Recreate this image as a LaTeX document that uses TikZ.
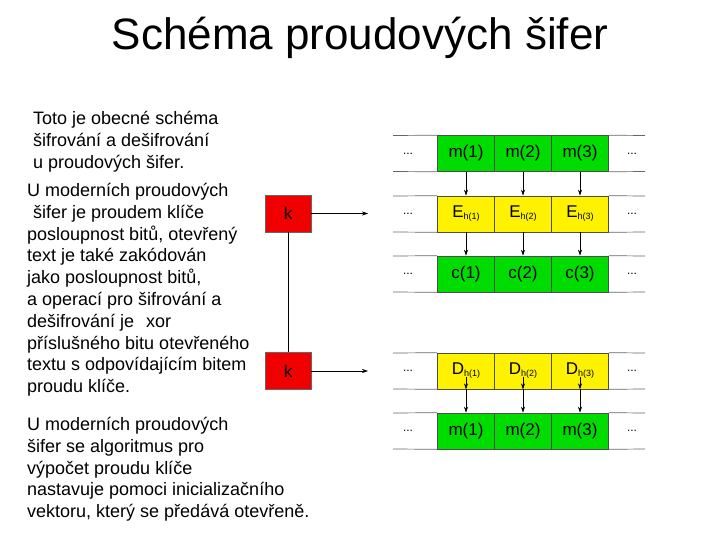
\documentclass[tikz,border=0pt]{standalone}
\usepackage{fontspec}
\setmainfont{Liberation Sans}
\usetikzlibrary{arrows.meta}
\definecolor{gr}{RGB}{0,220,0}
\definecolor{rd}{RGB}{240,0,0}
\begin{document}
\begin{tikzpicture}[x=1pt,y=-1pt,
  cell/.style={draw=black!70,line width=0.6pt,minimum width=57pt,minimum height=36pt,inner sep=0pt,font=\fontsize{17}{20}\selectfont},
  gcell/.style={cell,fill=gr},
  ycell/.style={cell,fill=yellow},
  key/.style={draw=black!60,fill=rd,minimum width=46pt,minimum height=37pt,inner sep=0pt,font=\fontsize{17}{20}\selectfont},
  dots/.style={font=\fontsize{12}{12}\selectfont},
  arr/.style={-{Stealth[length=6pt,width=4pt]},line width=0.6pt},
  rl/.style={draw=black!60,line width=0.7pt},
  txt/.style={anchor=north west,align=left,inner sep=0pt,font=\fontsize{18}{21.8}\selectfont}]
\useasboundingbox (0,0) rectangle (720,540);
\node (title) at (360,38) {\fontsize{44}{48}\selectfont Schéma proudových šifer};
\node[txt] (t1) at (33,111) {Toto je obecné schéma\\šifrování a dešifrování\\u proudových šifer.};
\node[txt] (t2) at (27,183) {U moderních proudových\\\hspace{6pt}šifer je proudem klíče\\posloupnost bitů, otevřený\\text je také zakódován\\jako posloupnost bitů,\\a operací pro šifrování a\\dešifrování je\hspace{12pt}xor\\příslušného bitu otevřeného\\textu s odpovídajícím bitem\\proudu klíče.};
\node[txt] (t3) at (27,417) {U moderních proudových\\šifer se algoritmus pro\\výpočet proudu klíče\\nastavuje pomoci inicializačního\\vektoru, který se předává otevřeně.};
\newcommand{\sbx}[1]{\raisebox{-2pt}{\fontsize{9}{9}\selectfont #1}}
\foreach \r/\y/\s/\a/\b/\c in {1/153.5/gcell/m(1)/m(2)/m(3),
  2/214/ycell/E\sbx{h(1)}/E\sbx{h(2)}/E\sbx{h(3)},
  3/274/gcell/c(1)/c(2)/c(3),
  4/371/ycell/D\sbx{h(1)}/D\sbx{h(2)}/D\sbx{h(3)},
  5/431/gcell/m(1)/m(2)/m(3)}{
  \node[\s] (r\r a) at (466,\y) {\a};
  \node[\s] (r\r b) at (523,\y) {\b};
  \node[\s] (r\r c) at (580,\y) {\c};
  \coordinate (r\r L1) at (393,\y-18);
  \coordinate (r\r L2) at (393,\y+18);
  \coordinate (r\r R1) at (645,\y-18);
  \coordinate (r\r R2) at (645,\y+18);
  \draw[rl] (r\r L1) -- (r\r a.north west) (r\r L2) -- (r\r a.south west);
  \draw[rl] (r\r c.north east) -- (r\r R1) (r\r c.south east) -- (r\r R2);
  \node[dots] (r\r dl) at (408,\y) {...};
  \node[dots] (r\r dr) at (632,\y) {...};
}
\foreach \c in {a,b,c}{
  \draw[arr] (r1\c) -- (r2\c);
  \draw[arr] (r2\c) -- (r3\c);
  \coordinate (in\c) at ([yshift=-24pt]r4\c.north);
  \draw[arr] (in\c) -- (r4\c);
  \draw[arr] (r4\c) -- (r5\c);
}
\node[key] (k1) at (288,213.5) {k};
\node[key] (k2) at (288,371) {k};
\draw[line width=0.6pt] (k1) -- (k2);
\coordinate (e1) at (368,213.5);
\coordinate (e2) at (368,371);
\draw[arr] (k1) -- (e1);
\draw[arr] (k2) -- (e2);
\end{tikzpicture}
\end{document}
